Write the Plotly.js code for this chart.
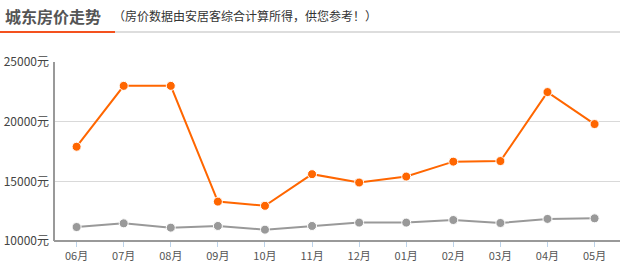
<!DOCTYPE html>
<html>
<head>
<meta charset="utf-8">
<script src="https://cdn.plot.ly/plotly-3.0.1.min.js"></script>
<style>html,body{margin:0;padding:0;background:#fff;}#chart{width:620px;height:266px;}</style>
</head>
<body>
<div id="chart"></div>
<script>
var months = ["06月","07月","08月","09月","10月","11月","12月","01月","02月","03月","04月","05月"];
var districtPrice = [17900,23000,23000,13300,12950,15600,14900,15400,16650,16700,22480,19800];
var cityPrice = [11170,11480,11120,11260,10950,11260,11540,11540,11760,11510,11850,11900];
var yTickVals = [10000,15000,20000,25000];
var yTickText = ["10000元","15000元","20000元","25000元"];

var L = 54, W = 566;
function px(x){ return (x - L) / W; }

var traces = [
  {x: months, y: cityPrice, type: "scatter", mode: "lines+markers",
   line: {color: "#999999", width: 2},
   marker: {color: "#999999", size: 9, line: {color: "#ffffff", width: 1}},
   hoverinfo: "skip"},
  {x: months, y: districtPrice, type: "scatter", mode: "lines+markers",
   line: {color: "#ff6600", width: 2},
   marker: {color: "#ff6600", size: 9, line: {color: "#ffffff", width: 1}},
   hoverinfo: "skip"}
];

var layout = {
  width: 620, height: 266,
  margin: {l: L, r: 0, t: 62, b: 25},
  paper_bgcolor: "#ffffff", plot_bgcolor: "#ffffff",
  showlegend: false,
  font: {family: "'Noto Sans CJK SC', 'Noto Sans', sans-serif", color: "#444"},
  xaxis: {
    type: "category", range: [-0.48, 11.54],
    showgrid: false, zeroline: false,
    showline: false,
    ticks: "outside", ticklen: 5, tickcolor: "#bcd3ea", tickwidth: 1,
    tickfont: {size: 11, color: "#555"},
    fixedrange: true
  },
  yaxis: {
    range: [10000, 25000],
    tickvals: yTickVals, ticktext: yTickText,
    showgrid: true, gridcolor: "#d9d9d9", gridwidth: 1,
    zeroline: false, showline: false, ticks: "",
    ticklabelstandoff: 4,
    tickfont: {size: 12, color: "#444"},
    fixedrange: true
  },
  shapes: [
    {type: "line", xref: "paper", yref: "paper", x0: px(0), x1: px(620), y0: 1 + 30/179, y1: 1 + 30/179,
     line: {color: "#dddddd", width: 2}},
    {type: "line", xref: "paper", yref: "paper", x0: px(0), x1: px(115), y0: 1 + 30/179, y1: 1 + 30/179,
     line: {color: "#f4511e", width: 2}},
    {type: "line", xref: "paper", yref: "paper", x0: 0, x1: 0, y0: 0, y1: 1,
     line: {color: "#999999", width: 2}},
    {type: "line", xref: "paper", yref: "paper", x0: 0, x1: 1, y0: 0, y1: 0,
     line: {color: "#999999", width: 2}}
  ],
  annotations: [
    {xref: "paper", yref: "paper", x: px(3), y: 1 + 46/179, xanchor: "left", yanchor: "middle",
     text: "<b>城东房价走势</b>", showarrow: false,
     font: {size: 16, color: "#555555", family: "'Noto Sans CJK SC', sans-serif"}},
    {xref: "paper", yref: "paper", x: px(111), y: 1 + 46/179, xanchor: "left", yanchor: "middle",
     text: "（房价数据由安居客综合计算所得，供您参考！）", showarrow: false,
     font: {size: 12, color: "#333333", family: "'Noto Sans CJK SC', sans-serif"}}
  ]
};

Plotly.newPlot("chart", traces, layout, {displayModeBar: false, staticPlot: true});
</script>
</body>
</html>
